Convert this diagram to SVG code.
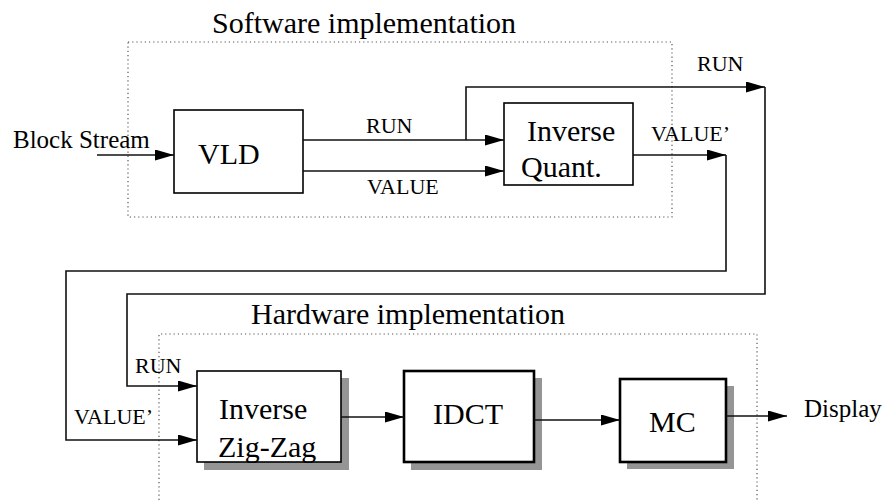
<svg xmlns="http://www.w3.org/2000/svg" width="886" height="500" viewBox="0 0 886 500">
<defs>
<marker id="arr" markerUnits="userSpaceOnUse" markerWidth="19" markerHeight="11" refX="19" refY="5.5" orient="auto">
<path d="M0,0 L19,5.5 L0,11 z" fill="#000"/>
</marker>
<style>
text{font-family:"Liberation Serif","Times New Roman",serif;fill:#000}
.big{font-size:30px}
.mid{font-size:25px}
.sm{font-size:22px}
.dot{fill:none;stroke:#555;stroke-width:1.2;stroke-dasharray:1.2,3}
.box{fill:#fff;stroke:#000;stroke-width:1.6}
.tbox{fill:#fff;stroke:#000;stroke-width:2.6}
.shadow{fill:#959595}
.conn path{fill:none;stroke:#111;stroke-width:1.6}
</style>
</defs>
<rect width="886" height="500" fill="#fff"/>
<g id="sw-region">
<rect class="dot" x="128" y="42" width="544" height="175"/>
<text class="big" x="212" y="33">Software implementation</text>
</g>
<g id="hw-region">
<path class="dot" d="M159,500 V334 H757 V500"/>
<text class="big" x="251" y="324">Hardware implementation</text>
</g>
<g id="vld">
<rect class="box" x="174" y="110" width="129" height="83"/>
<text class="big" x="198" y="164">VLD</text>
</g>
<g id="iq">
<rect class="box" x="504" y="103" width="129" height="82"/>
<text class="big" x="527" y="141">Inverse</text>
<text class="big" x="521" y="177">Quant.</text>
</g>
<g id="izz">
<rect class="shadow" x="204" y="378" width="145" height="92"/>
<rect class="box" x="197" y="371" width="144" height="91"/>
<text class="big" x="219" y="419">Inverse</text>
<text class="big" x="218" y="457">Zig-Zag</text>
</g>
<g id="idct">
<rect class="shadow" x="411" y="378" width="131" height="92"/>
<rect class="tbox" x="404" y="371" width="130" height="91"/>
<text class="big" x="433" y="424">IDCT</text>
</g>
<g id="mc">
<rect class="shadow" x="627" y="386" width="107" height="83"/>
<rect class="tbox" x="620" y="379" width="106" height="83"/>
<text class="big" x="649" y="432">MC</text>
</g>
<g id="connectors" class="conn">
<path d="M97,155 H174" marker-end="url(#arr)"/>
<path d="M303,140 H504" marker-end="url(#arr)"/>
<path d="M303,171 H504" marker-end="url(#arr)"/>
<path d="M466,140 V87 H765" marker-end="url(#arr)"/>
<path d="M765,87 V294 H127 V386 H197" marker-end="url(#arr)"/>
<path d="M633,155 H726" marker-end="url(#arr)"/>
<path d="M726,155 V271 H66 V440 H197" marker-end="url(#arr)"/>
<path d="M341,417 H404" marker-end="url(#arr)"/>
<path d="M534,420 H620" marker-end="url(#arr)"/>
<path d="M726,416 H787" marker-end="url(#arr)"/>
</g>
<g id="labels">
<text class="mid" x="13" y="148">Block Stream</text>
<text class="sm" x="366" y="133">RUN</text>
<text class="sm" x="367" y="194">VALUE</text>
<text class="sm" x="697" y="71">RUN</text>
<text class="sm" x="651" y="141">VALUE’</text>
<text class="sm" x="135" y="373">RUN</text>
<text class="sm" x="74" y="424">VALUE’</text>
<text class="mid" x="804" y="417">Display</text>
</g>
</svg>
